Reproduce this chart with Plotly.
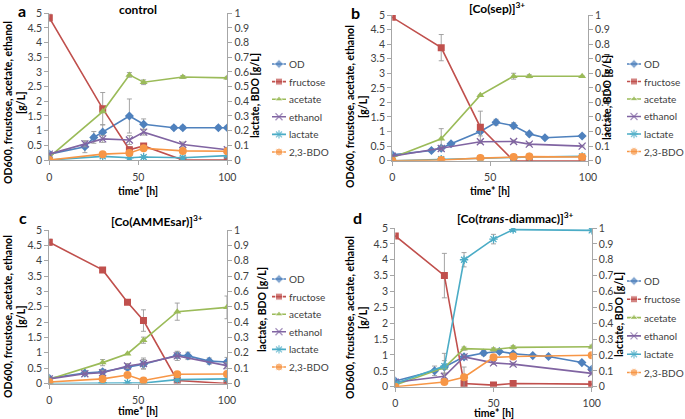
import plotly.graph_objects as go

# ---------------- data ----------------
SERIES = ["OD", "fructose", "acetate", "ethanol", "lactate", "2,3-BDO"]

# panel a: control
A_OD_t = [0, 20, 25, 30, 45, 53, 70, 75, 95, 100]
A_OD = [0.2, 0.45, 0.77, 0.95, 1.5, 1.22, 1.1, 1.1, 1.1, 1.1]
A_OD_err = [0.05, 0.2, 0.2, 0.25, 0.58, 0.18, 0.06, 0.06, 0.06, 0.06]
A_t = [0, 30, 45, 53, 75, 100]
A_fru = [4.85, 1.75, 0.35, 0.48, 0.0, 0.0]
A_fru_err = [0.12, 0.55, 0.1, 0.05, None, None]
A_ace = [0.1, 1.65, 2.9, 2.65, 2.83, 2.8]
A_ace_err = [None, None, 0.08, 0.08, 0.05, 0.05]
A_eth_t = [0, 20, 30, 45, 53, 75, 100]
A_eth = [0.2, 0.55, 0.72, 0.68, 0.95, 0.53, 0.35]
A_eth_err = [None, 0.1, 0.12, 0.15, 0.1, 0.08, 0.08]
A_lac = [0.0, 0.025, 0.015, 0.02, 0.015, 0.03]
A_lac_err = [None, 0.01, None, 0.01, None, None]
A_bdo = [0.0, 0.04, 0.048, 0.08, 0.062, 0.06]
A_bdo_err = [None, 0.01, 0.01, 0.01, 0.01, 0.01]

# panel b: [Co(sep)]3+
B_OD_t = [0, 20, 25, 30, 45, 53, 62, 70, 78, 97]
B_OD = [0.2, 0.35, 0.43, 0.58, 1.0, 1.32, 1.2, 0.92, 0.79, 0.85]
B_OD_err = [None, 0.05, 0.05, 0.05, 0.15, 0.1, 0.1, 0.05, 0.03, 0.05]
B_t = [0, 25, 45, 62, 70, 97]
B_fru = [4.92, 3.88, 1.15, 0.0, 0.0, 0.0]
B_fru_err = [None, 0.45, 0.55, None, None, None]
B_ace = [0.1, 0.75, 2.25, 2.9, 2.9, 2.9]
B_ace_err = [None, 0.35, None, 0.1, 0.05, None]
B_eth = [0.15, 0.42, 0.65, 0.66, 0.57, 0.5]
B_eth_err = [None, 0.05, 0.05, 0.05, 0.05, 0.03]
B_lac = [0.0, 0.01, 0.015, 0.02, 0.025, 0.03]
B_lac_err = [None, 0.01, None, None, None, None]
B_bdo = [0.0, 0.005, 0.018, 0.025, 0.028, 0.025]
B_bdo_err = [None, None, None, None, None, None]

# panel c: [Co(AMMEsar)]3+
C_OD_t = [0, 20, 30, 44, 53, 72, 78, 90, 100]
C_OD = [0.17, 0.34, 0.38, 0.52, 0.63, 0.92, 0.9, 0.73, 0.7]
C_OD_err = [None, 0.05, 0.08, 0.08, 0.15, 0.1, 0.12, 0.1, 0.15]
C_t = [0, 30, 44, 53, 72, 100]
C_fru = [4.6, 3.7, 2.65, 2.05, 0.1, 0.0]
C_fru_err = [0.1, None, None, 0.35, None, None]
C_ace = [0.14, 0.68, 0.97, 1.41, 2.34, 2.48]
C_ace_err = [None, 0.1, None, 0.1, 0.28, 0.37]
C_eth_t = [0, 20, 30, 44, 53, 72, 100]
C_eth = [0.15, 0.32, 0.35, 0.57, 0.65, 0.9, 0.58]
C_eth_err = [None, 0.05, 0.08, 0.08, 0.18, 0.15, 0.1]
C_lac = [0.0, 0.005, 0.003, 0.003, 0.025, 0.03]
C_lac_err = [None, None, None, None, None, None]
C_bdo = [0.01, 0.03, 0.055, 0.02, 0.06, 0.062]
C_bdo_err = [None, None, None, 0.015, None, None]

# panel d: [Co(trans-diammac)]3+
D_OD_t = [0, 20, 25, 35, 45, 53, 60, 70, 78, 95, 100]
D_OD = [0.18, 0.5, 0.62, 0.94, 1.06, 1.11, 1.04, 0.98, 0.95, 0.76, 0.55]
D_OD_err = [None, 0.15, 0.2, None, 0.08, 0.05, None, None, None, None, 0.05]
D_t = [0, 25, 35, 50, 60, 100]
D_fru = [4.75, 3.5, 0.1, 0.05, 0.1, 0.08]
D_fru_err = [None, 0.7, None, None, None, None]
D_ace = [0.05, 0.6, 1.2, 1.17, 1.24, 1.26]
D_ace_err = [None, None, 0.05, 0.05, 0.05, 0.05]
D_eth = [0.14, 0.33, 0.94, 0.75, 0.71, 0.42]
D_eth_err = [None, 0.1, 0.05, 0.05, 0.05, 0.05]
D_lac = [0.02, 0.13, 0.8, 0.93, 0.99, 0.985]
D_lac_err = [None, 0.08, 0.045, 0.03, 0.01, 0.01]
D_bdo = [0.0, 0.03, 0.06, 0.185, 0.19, 0.198]
D_bdo_err = [None, None, 0.064, None, None, None]

X_TICKS = [0, 50, 100]
LEFT_TICKS = [0, 0.5, 1, 1.5, 2, 2.5, 3, 3.5, 4, 4.5, 5]
RIGHT_TICKS = [0, 0.1, 0.2, 0.3, 0.4, 0.5, 0.6, 0.7, 0.8, 0.9, 1]

# ---------------- styles ----------------
COLORS = {"OD": "#4F81BD", "fructose": "#C0504D", "acetate": "#9BBB59",
          "ethanol": "#8064A2", "lactate": "#4BACC6", "2,3-BDO": "#F79646"}
SYMBOLS = {"OD": ("diamond", 7), "fructose": ("square", 7), "acetate": ("triangle-up", 7),
           "ethanol": ("x-thin-open", 7), "lactate": ("asterisk-open", 7), "2,3-BDO": ("circle", 8)}
FONT = "Lato"
TXT = "#404040"
AXC = "#A6A6A6"

panels = [
    dict(name="a", title="control",
         data={"OD": (A_OD_t, A_OD, A_OD_err), "fructose": (A_t, A_fru, A_fru_err),
               "acetate": (A_t, A_ace, A_ace_err), "ethanol": (A_eth_t, A_eth, A_eth_err),
               "lactate": (A_t, A_lac, A_lac_err), "2,3-BDO": (A_t, A_bdo, A_bdo_err)},
         px=(49.3, 227.3), py=(13.3, 160.0), title_xy=(138, 9), lab_xy=(22, 10),
         ltitle_x=(8, 21), ltitle_y=103, rtitle=(255, 96),
         leg_x=(272, 286), leg_y=(64, 17.6), xtitle_y=191),
    dict(name="b", title="[Co(sep)]<sup>3+</sup>",
         data={"OD": (B_OD_t, B_OD, B_OD_err), "fructose": (B_t, B_fru, B_fru_err),
               "acetate": (B_t, B_ace, B_ace_err), "ethanol": (B_t, B_eth, B_eth_err),
               "lactate": (B_t, B_lac, B_lac_err), "2,3-BDO": (B_t, B_bdo, B_bdo_err)},
         px=(392.3, 588.0), py=(15.0, 160.7), title_xy=(497, 8), lab_xy=(355, 12),
         ltitle_x=(350, 363), ltitle_y=107, rtitle=(607, 98),
         leg_x=(627, 641), leg_y=(64, 17.5), xtitle_y=191),
    dict(name="c", title="[Co(AMMEsar)]<sup>3+</sup>",
         data={"OD": (C_OD_t, C_OD, C_OD_err), "fructose": (C_t, C_fru, C_fru_err),
               "acetate": (C_t, C_ace, C_ace_err), "ethanol": (C_eth_t, C_eth, C_eth_err),
               "lactate": (C_t, C_lac, C_lac_err), "2,3-BDO": (C_t, C_bdo, C_bdo_err)},
         px=(49.3, 227.0), py=(230.0, 383.5), title_xy=(157, 221), lab_xy=(23, 217),
         ltitle_x=(8, 21), ltitle_y=317, rtitle=(262, 310),
         leg_x=(272, 286), leg_y=(279, 17.6), xtitle_y=411),
    dict(name="d", title="[Co(<i>trans</i>-diammac)]<sup>3+</sup>",
         data={"OD": (D_OD_t, D_OD, D_OD_err), "fructose": (D_t, D_fru, D_fru_err),
               "acetate": (D_t, D_ace, D_ace_err), "ethanol": (D_t, D_eth, D_eth_err),
               "lactate": (D_t, D_lac, D_lac_err), "2,3-BDO": (D_t, D_bdo, D_bdo_err)},
         px=(395.3, 591.7), py=(228.0, 386.7), title_xy=(515, 218), lab_xy=(357, 217),
         ltitle_x=(350, 363), ltitle_y=318, rtitle=(619, 315),
         leg_x=(627, 641), leg_y=(281, 18.3), xtitle_y=413),
]

W, H = 685, 419
fig = go.Figure()
layout = {}
annotations = []


def ann(x, y, text, size, color="#000000", angle=0, xanchor="center"):
    annotations.append(dict(x=x / W, y=1 - y / H, xref="paper", yref="paper", text=text,
                            textangle=angle, showarrow=False, xanchor=xanchor,
                            yanchor="middle",
                            font=dict(family=FONT, size=size, color=color)))


for i, p in enumerate(panels):
    n = i + 1
    xa = "x" if n == 1 else f"x{n}"
    yl_n = 2 * i + 1
    yr_n = 2 * i + 2
    yl = "y" if yl_n == 1 else f"y{yl_n}"
    yr = f"y{yr_n}"
    for s in SERIES:
        t, v, e = p["data"][s]
        sym, size = SYMBOLS[s]
        right = s in ("lactate", "2,3-BDO")
        mk = dict(color=COLORS[s], symbol=sym, size=size)
        if sym.endswith("open"):
            mk["line"] = dict(color=COLORS[s], width=1.3)
        fig.add_trace(go.Scatter(
            x=t, y=v, name=s, mode="lines+markers", showlegend=False,
            line=dict(color=COLORS[s], width=1.6),
            marker=mk,
            error_y=dict(type="data", array=e, color="#9A9A9A", thickness=0.9, width=2.5),
            xaxis=xa, yaxis=yr if right else yl,
        ))
    x0, x1 = p["px"][0] / W, p["px"][1] / W
    y0, y1 = 1 - p["py"][1] / H, 1 - p["py"][0] / H
    tick_font = dict(family=FONT, size=10.5, color=TXT)
    common = dict(showline=True, linecolor=AXC, linewidth=1, ticks="outside", ticklen=4,
                  tickcolor=AXC, showgrid=False, zeroline=False, tickfont=tick_font)
    layout[f"xaxis{n if n > 1 else ''}"] = dict(
        domain=[x0, x1], anchor=yl, range=[0, 100], tickvals=X_TICKS,
        ticklabelstandoff=3, **common)
    layout[f"yaxis{yl_n if yl_n > 1 else ''}"] = dict(
        domain=[y0, y1], anchor=xa, range=[0, 5], tickvals=LEFT_TICKS, **common)
    layout[f"yaxis{yr_n}"] = dict(
        domain=[y0, y1], anchor=xa, overlaying=yl, side="right", range=[0, 1],
        tickvals=RIGHT_TICKS, **common)

    # legend keys drawn on a small dedicated pair of axes
    lxn = 4 + n          # x5..x8
    lyn = 8 + n          # y9..y12
    lx0, lx1 = p["leg_x"]
    ly0, dy = p["leg_y"]
    top = ly0 - dy / 2
    bot = ly0 + 5 * dy + dy / 2
    layout[f"xaxis{lxn}"] = dict(domain=[lx0 / W, lx1 / W], range=[0, 1], visible=False,
                                 anchor=f"y{lyn}", fixedrange=True)
    layout[f"yaxis{lyn}"] = dict(domain=[1 - bot / H, 1 - top / H], range=[5.5, -0.5],
                                 visible=False, anchor=f"x{lxn}", fixedrange=True)
    for k, s in enumerate(SERIES):
        sym, size = SYMBOLS[s]
        mk = dict(color=COLORS[s], symbol=sym, size=[0, size, 0])
        if sym.endswith("open"):
            mk["line"] = dict(color=COLORS[s], width=1.3)
        fig.add_trace(go.Scatter(
            x=[0, 0.5, 1], y=[k, k, k], mode="lines+markers", showlegend=False,
            line=dict(color=COLORS[s], width=1.6), marker=mk, hoverinfo="skip",
            xaxis=f"x{lxn}", yaxis=f"y{lyn}"))
        ann(lx1 + 1, ly0 + k * dy, s, 10, color=TXT, xanchor="left")

    # texts
    ann(*p["title_xy"], f"<b>{p['title']}</b>", 12)
    ann(*p["lab_xy"], f"<b>{p['name']}</b>", 16)
    ann(p["ltitle_x"][0], p["ltitle_y"], "<b>OD600, frcustose, acetate, ethanol</b>", 10.5,
        angle=-90)
    ann(p["ltitle_x"][1], p["ltitle_y"], "<b>[g/L]</b>", 10.5, angle=-90)
    ann(*p["rtitle"], "<b>lactate, BDO [g/L]</b>", 10.5, angle=-90)
    ann((p["px"][0] + p["px"][1]) / 2, p["xtitle_y"], "<b>time* [h]</b>", 10.5)

fig.update_layout(width=W, height=H, margin=dict(l=0, r=0, t=0, b=0, autoexpand=False),
                  plot_bgcolor="white", paper_bgcolor="white", showlegend=False,
                  font=dict(family=FONT, size=11, color=TXT),
                  annotations=annotations, **layout)

fig.write_html("out.html", config={"displayModeBar": False},
               post_script="document.body.style.margin='0';"
                           "document.body.style.overflow='hidden';")
